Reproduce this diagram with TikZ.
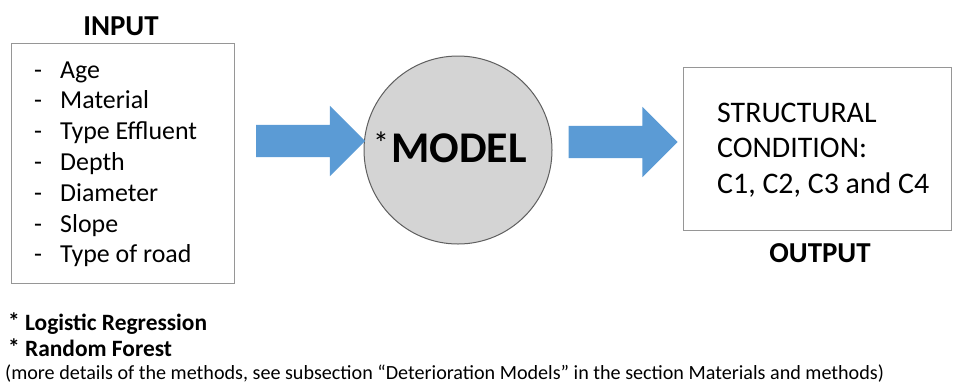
\documentclass[tikz,border=0pt]{standalone}
\usepackage{fontspec}
\setmainfont{Carlito}
\usetikzlibrary{shapes.arrows}
\definecolor{flowblue}{RGB}{91,155,213}
\definecolor{boxgray}{RGB}{150,150,150}
\definecolor{modelfill}{RGB}{212,212,212}
\definecolor{modeldraw}{RGB}{95,95,95}
\newcommand{\upstar}[1]{\raisebox{#1}{*}}
\begin{document}
\begin{tikzpicture}[
            x=1bp, y=-1bp,
            box/.style={rectangle, draw=boxgray, line width=1bp},
            title/.style={anchor=base, inner sep=0pt, font=\bfseries\fontsize{29}{34}\selectfont},
            feature/.style={anchor=base west, inner sep=0pt, font=\fontsize{26}{31}\selectfont},
            flow/.style={single arrow, fill=flowblue, draw=none, inner xsep=0pt, inner ysep=16bp,
                minimum height=109bp, single arrow head extend=19bp, single arrow head indent=0pt},
            model/.style={circle, draw=modeldraw, fill=modelfill, line width=1bp, minimum size=188bp},
            note/.style={anchor=base west, inner sep=0pt, font=\bfseries\fontsize{23.5}{28}\selectfont}
        ]
        \useasboundingbox (0,0) rectangle (953,383);

        % Input side
        \node[title] (intitle) at (121,35) {INPUT};
        \node[box, minimum width=222bp, minimum height=240bp] (inbox) at (123,163) {};
        \foreach \feat [count=\i from 0] in {Age, Material, Type Effluent, Depth, Diameter, Slope, Type of road}
            \node[feature] (feat\i) at (34,78+30.8*\i) {\makebox[26bp][l]{-}\feat};

        % Model
        \node[model] (model) at (458,150) {};
        \node[inner sep=0pt] (modeltxt) at (450,147)
            {{\fontsize{32}{32}\selectfont\upstar{8bp}} {\bfseries\fontsize{44}{50}\selectfont MODEL}};

        % Block arrows
        \node[flow] (arrin) at (302.5,141) {};
        \node[flow] (arrout) at (615,142) {};

        % Output side
        \node[box, minimum width=268bp, minimum height=163bp] (outbox) at (817,148.5) {};
        \node[anchor=west, align=left, inner sep=0pt, font=\fontsize{30}{35.5}\selectfont] (outtxt) at (717,150)
            {STRUCTURAL\\CONDITION:\\C1, C2, C3 and C4};
        \node[title] (outtitle) at (820,262) {OUTPUT};

        % Notes on the models
        \node[note] (note1) at (8,330) {\upstar{0.5bp} Logistic Regression};
        \node[note] (note2) at (8,356) {\upstar{0.5bp} Random Forest};
        \node[note, font=\fontsize{20.2}{24}\selectfont] (note3) at (5,379)
            {(more details of the methods, see subsection “Deterioration Models” in the section Materials and methods)};

    \end{tikzpicture}
\end{document}
